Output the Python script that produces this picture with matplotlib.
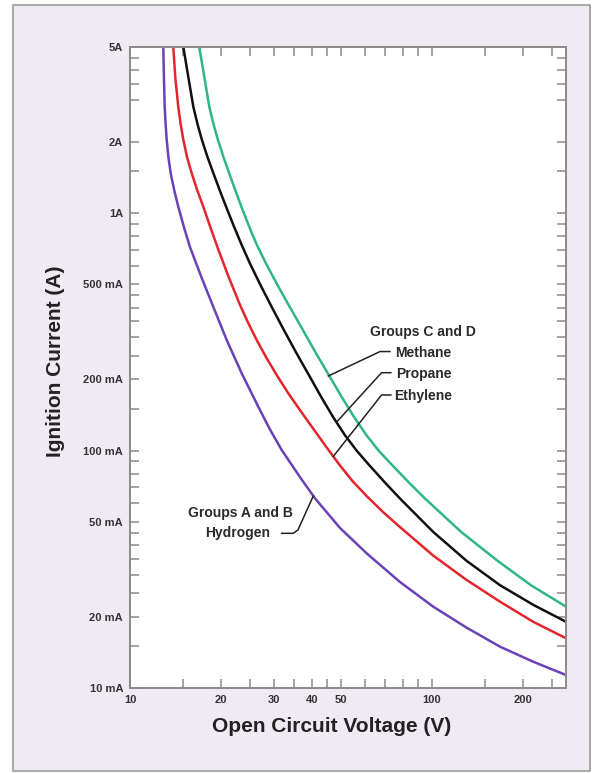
import matplotlib.pyplot as plt
from matplotlib.patches import Rectangle
from matplotlib.ticker import FixedLocator, NullLocator

plt.rcParams['font.family'] = ['Liberation Sans', 'DejaVu Sans']

# curves: open circuit voltage (V) -> ignition current (A)
hydrogen_v = [12.89, 12.96, 13.03, 13.12, 13.23, 13.40, 13.64, 14.02, 14.45, 15.10, 15.80, 17.18,
              18.87, 20.90, 23.44, 26.60, 29.08, 31.80, 36.55, 40.99, 49.59, 60.78, 78.37, 101.0,
              130.3, 168.0, 216.5, 278]
hydrogen_a = [5.0, 3.63, 2.80, 2.37, 2.03, 1.72, 1.469, 1.243, 1.063, 0.869, 0.719, 0.543,
              0.403, 0.292, 0.2114, 0.1529, 0.1226, 0.1005, 0.0773, 0.0629, 0.0472, 0.0369, 0.02795, 0.0220,
              0.01795, 0.01493, 0.0129, 0.01134]

ethylene_v = [13.91, 14.13, 14.45, 14.70, 15.02, 15.45, 16.01, 16.67, 17.49, 18.47, 19.61, 21.19,
              23.14, 24.59, 26.27, 28.21, 30.60, 33.36, 36.55, 40.36, 44.81, 49.59, 54.75, 60.78,
              68.83, 78.37, 101.0, 130.3, 168.0, 216.5, 278]
ethylene_a = [5.0, 3.70, 2.80, 2.39, 2.03, 1.72, 1.469, 1.256, 1.063, 0.869, 0.702, 0.540,
              0.410, 0.346, 0.292, 0.2475, 0.208, 0.175, 0.148, 0.124, 0.103, 0.0865, 0.0740, 0.0643,
              0.0551, 0.0476, 0.0361, 0.0285, 0.0231, 0.0190, 0.0162]

propane_v = [15.02, 15.56, 16.21, 16.73, 17.31, 18.06, 18.90, 19.86, 20.95, 22.10, 23.40, 24.96,
             26.95, 29.41, 32.19, 35.59, 39.45, 43.22, 47.12, 51.51, 56.45, 62.33, 69.89, 78.37,
             101.0, 130.3, 168.0, 216.5, 278]
propane_a = [5.0, 3.81, 2.80, 2.37, 2.03, 1.72, 1.467, 1.238, 1.040, 0.877, 0.737, 0.613,
             0.502, 0.404, 0.325, 0.257, 0.204, 0.166, 0.138, 0.116, 0.0995, 0.0861, 0.0733, 0.0628,
             0.0454, 0.0343, 0.0271, 0.0224, 0.0190]

methane_v = [16.96, 17.58, 18.31, 18.90, 19.56, 20.40, 21.32, 22.37, 23.53, 24.81, 26.27, 28.21,
             30.67, 33.74, 37.20, 41.29, 45.95, 50.54, 55.30, 60.69, 66.77, 74.29, 83.93, 94.81,
             125.0, 165.1, 212.7, 278]
methane_a = [5.0, 3.81, 2.80, 2.37, 2.03, 1.72, 1.467, 1.238, 1.040, 0.877, 0.737, 0.613,
             0.502, 0.404, 0.325, 0.257, 0.204, 0.166, 0.138, 0.116, 0.0995, 0.0861, 0.0733, 0.0628,
             0.0454, 0.0343, 0.0271, 0.0220]

x_ticks = [10, 15, 20, 25, 30, 35, 40, 45, 50, 60, 70, 80, 90, 100, 150, 200, 250]
x_labeled = {10: '10', 20: '20', 30: '30', 40: '40', 50: '50', 100: '100', 200: '200'}
y_ticks = [5, 4.5, 4, 3.5, 3, 2, 1.5, 1, 0.9, 0.8, 0.7, 0.6, 0.5, 0.45, 0.4, 0.35, 0.3, 0.25,
           0.2, 0.15, 0.1, 0.09, 0.08, 0.07, 0.06, 0.05, 0.045, 0.04, 0.035, 0.03, 0.025,
           0.02, 0.015, 0.01]
y_labeled = {5: '5A', 2: '2A', 1: '1A', 0.5: '500 mA', 0.2: '200 mA', 0.1: '100 mA',
             0.05: '50 mA', 0.02: '20 mA', 0.01: '10 mA'}

fig = plt.figure(figsize=(5.92, 7.73), dpi=100)
fig.patches.append(Rectangle((13 / 592, 2 / 773), 577 / 592, 766 / 773, transform=fig.transFigure,
                             facecolor='#f0eaf3', edgecolor='#9a9a9a', linewidth=1.2, zorder=-5))

ax = fig.add_axes([130 / 592, 85 / 773, 436 / 592, 641 / 773])
ax.set_zorder(2)
ax.set_facecolor('white')
ax.set_xscale('log')
ax.set_yscale('log')

ax.plot(hydrogen_v, hydrogen_a, color='#6a42b8', lw=1.8, solid_joinstyle='round')
ax.plot(ethylene_v, ethylene_a, color='#e3262d', lw=1.8, solid_joinstyle='round')
ax.plot(propane_v, propane_a, color='#111111', lw=1.8, solid_joinstyle='round')
ax.plot(methane_v, methane_a, color='#2fb684', lw=1.8, solid_joinstyle='round')

ax.set_xlim(10, 278)
ax.set_ylim(0.01, 5)

ax.xaxis.set_major_locator(FixedLocator(x_ticks))
ax.xaxis.set_minor_locator(NullLocator())
ax.set_xticklabels([x_labeled.get(t, '') for t in x_ticks])
ax.yaxis.set_major_locator(FixedLocator(y_ticks))
ax.yaxis.set_minor_locator(NullLocator())
ax.set_yticklabels([y_labeled.get(t, '') for t in y_ticks])

ax.tick_params(which='both', direction='in', length=6.5, width=1.1, color='#8a8a8a',
               top=True, right=True, labelsize=8, labelcolor='#333333', pad=5)
for lab in ax.get_xticklabels() + ax.get_yticklabels():
    lab.set_fontweight('bold')
for sp in ax.spines.values():
    sp.set_color('#8a8a8a')
    sp.set_linewidth(1.4)

ax.set_ylabel('Ignition Current (A)', fontsize=15, fontweight='bold', color='#222222')
ax.yaxis.set_label_coords(-0.149, 0.51)
ax.set_xlabel('Open Circuit Voltage (V)', fontsize=15, fontweight='bold', color='#222222')
ax.xaxis.set_label_coords(0.463, -0.046)

# leader lines and labels
lead = dict(color='#222222', lw=1.1)
ax.plot([45.4, 67.3, 72.6], [0.206, 0.261, 0.261], **lead)
ax.plot([48.4, 68.1, 73.1], [0.132, 0.2126, 0.2126], **lead)
ax.plot([47.12, 68.1, 73.1], [0.0944, 0.1713, 0.1713], **lead)
ax.plot([40.45, 36.0, 34.7, 31.8], [0.0643, 0.0463, 0.0448, 0.0448], **lead)

txt = dict(fontsize=10, fontweight='bold', color='#2a2a2a', va='center')
ax.text(93.4, 0.3163, 'Groups C and D', ha='center', **txt)
ax.text(75.4, 0.258, 'Methane', ha='left', **txt)
ax.text(76.0, 0.210, 'Propane', ha='left', **txt)
ax.text(74.8, 0.170, 'Ethylene', ha='left', **txt)
ax.text(34.7, 0.0544, 'Groups A and B', ha='right', **txt)
ax.text(29.1, 0.0448, 'Hydrogen', ha='right', **txt)

fig.savefig('out.png', dpi=100)
